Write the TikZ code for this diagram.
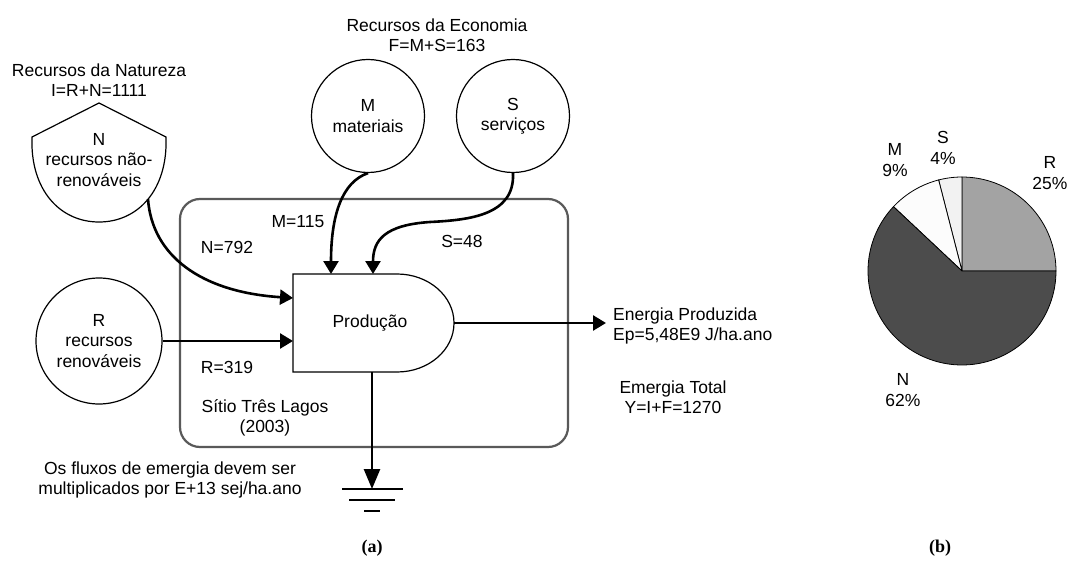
\documentclass[tikz,border=0pt]{standalone}
\usepackage{fontspec}
\setmainfont{Liberation Sans}
\newfontfamily\capfont{Liberation Serif}
\usetikzlibrary{arrows.meta}
\newcommand{\lblsize}{\fontsize{17.5}{20.5}\selectfont}
\tikzset{
  txt/.style={font=\lblsize, align=center, inner sep=0pt},
  source/.style={circle, draw, line width=1.2pt, minimum size=#1, txt},
  flow/.style={line width=2.6pt, -{Triangle[length=13pt,width=15pt]}},
  pieline/.style={draw=black, line width=0.8pt},
  caption/.style={font=\capfont\bfseries\fontsize{18}{20}\selectfont, inner sep=0pt},
}
\begin{document}
\begin{tikzpicture}[x=1pt, y=-1pt]
\useasboundingbox (0,0) rectangle (1074,567);

% system boundary
\draw[draw=black!65, line width=2.2pt, rounded corners=20pt] (180,199) rectangle (568,447);

% production process
\draw[line width=1.2pt, fill=white] (293,274) -- (397,274)
  .. controls (428.5,274) and (454,296) .. (454,323)
  .. controls (454,350) and (428.5,372) .. (397,372)
  -- (293,372) -- cycle;
\node[txt] (prod) at (370,323) {Produção};
\coordinate (pW1) at (293,298);
\coordinate (pW2) at (293,341);
\coordinate (pN1) at (331,274);
\coordinate (pN2) at (373,274);
\coordinate (pE) at (454,323);
\coordinate (pS) at (372,372);

% non-renewable source (shield)
\draw[line width=1.2pt] (32,137) -- (99,103) -- (166,137)
  .. controls (168,190) and (138,222) .. (99,222)
  .. controls (60,222) and (30,190) .. (32,137) -- cycle;
\node[txt] (N) at (99,160) {N\\recursos não-\\renováveis};
\coordinate (Nout) at (148,199);
\node[txt] (natTitle) at (99,80) {Recursos da Natureza\\I=R+N=1111};

% renewable source
\node[source=126pt] (R) at (99,341) {R\\recursos\\renováveis};

% economy sources
\node[txt] (ecoTitle) at (437,35) {Recursos da Economia\\F=M+S=163};
\node[source=113pt] (M) at (368,116) {M\\materiais};
\node[source=113pt] (S) at (513,116) {S\\serviços};

% flows
\draw[flow] (Nout) .. controls (152,255) and (200,292) .. (pW1);
\draw[flow] (R.east) -- (pW2);
\draw[flow] (M.south) .. controls (342,182) and (331,215) .. (pN1);
\draw[flow] (S.south) .. controls (515,215) and (470,220) .. (430,222)
  .. controls (385,225) and (373,240) .. (pN2);

\node[txt] (lblM) at (298,222) {M=115};
\node[txt] (lblN) at (227,247) {N=792};
\node[txt] (lblS) at (462,241) {S=48};
\node[txt] (lblR) at (227,367) {R=319};

% yield
\coordinate (outEnd) at (606,323);
\draw[flow] (pE) -- (outEnd);
\node[txt, anchor=west, align=left] (yield) at (613,326) {Energia Produzida\\Ep=5,48E9 J/ha.ano};
\node[txt] (total) at (673,397) {Emergia Total\\Y=I+F=1270};

\node[txt] (site) at (265,418) {Sítio Três Lagos\\(2003)};
\node[txt] (note) at (170,480) {Os fluxos de emergia devem ser\\multiplicados por E+13 sej/ha.ano};

% heat sink
\coordinate (gnd) at (372,489);
\draw[line width=2.6pt, -{Triangle[length=20pt,width=16pt]}] (pS) -- (gnd);
\draw[line width=2.8pt] (342,489) -- (403,489);
\draw[line width=2.8pt] (349,500) -- (395,500);
\draw[line width=2.8pt] (364,511) -- (380,511);

% pie chart of emergy shares
\coordinate (pc) at (962,271);
\filldraw[pieline, fill=black!36] (pc) -- plot[domain=0:90, samples=40] ({962+94*cos(\x)},{271-94*sin(\x)}) -- cycle;
\filldraw[pieline, fill=black!5] (pc) -- plot[domain=90:104.4, samples=10] ({962+94*cos(\x)},{271-94*sin(\x)}) -- cycle;
\filldraw[pieline, fill=black!1] (pc) -- plot[domain=104.4:136.8, samples=20] ({962+94*cos(\x)},{271-94*sin(\x)}) -- cycle;
\filldraw[pieline, fill=black!70] (pc) -- plot[domain=136.8:360, samples=100] ({962+94*cos(\x)},{271-94*sin(\x)}) -- cycle;

\node[txt] (pR) at (1050,173) {R\\25\%};
\node[txt] (pS2) at (943,148) {S\\4\%};
\node[txt] (pM) at (895,160) {M\\9\%};
\node[txt] (pN) at (903,390) {N\\62\%};

% panel captions
\node[caption] (capA) at (372,548) {(a)};
\node[caption] (capB) at (940,548) {(b)};
\end{tikzpicture}
\end{document}
